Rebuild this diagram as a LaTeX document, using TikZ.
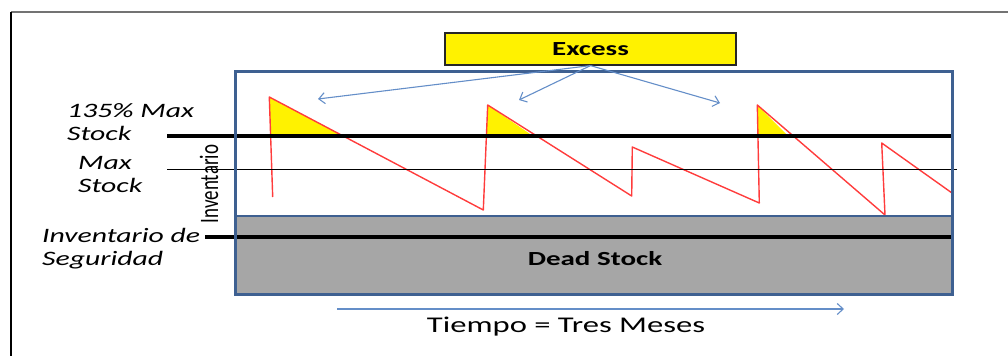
\documentclass[tikz,border=0pt]{standalone}
\usepackage{fontspec}
\setmainfont{Carlito}[FakeStretch=1.45]
\newfontfamily\upfont{Carlito}
\usetikzlibrary{arrows.meta}

\definecolor{boxblue}{RGB}{62,96,145}
\definecolor{hintblue}{RGB}{100,142,200}
\definecolor{sawred}{RGB}{255,60,60}
\definecolor{deadgray}{RGB}{166,166,166}

\tikzset{
  lbl/.style={font=\fontsize{20.5}{23}\selectfont\itshape, align=left, anchor=north west, inner sep=0pt},
  level/.style={line width=3.3pt},
  saw/.style={draw=sawred, line width=1.4pt, line join=round},
  hint/.style={draw=hintblue, line width=1.1pt, -{Straight Barb[length=6pt,width=11pt]}},
  excessbox/.style={draw=black!85, fill=yellow, line width=1.2pt, minimum width=291pt, minimum height=32pt, font=\fontsize{20}{22}\selectfont\bfseries},
}

\begin{document}
\begin{tikzpicture}[x=1pt,y=-1pt]
\useasboundingbox (0,0) rectangle (1008,356);
\draw[black!55, line width=1.2pt] (11,12) -- (1008,12);
\draw[black, line width=1.2pt] (11,12) -- (11,356);

\fill[deadgray] (235,216) rectangle (952,294);
\fill[yellow] (269.3,97) -- (343,136) -- (270.6,136) -- cycle;
\fill[yellow] (487.7,105) -- (533,136) -- (486.6,136) -- cycle;
\fill[yellow] (757.3,105) -- (788,136) -- (757.5,136) -- cycle;
\draw[saw] (272.7,197) -- (269.3,97) -- (483.3,210) -- (487.7,105) -- (631.7,196) -- (632.3,147)
  -- (759.3,203) -- (757.3,105) -- (885,215) -- (881.7,143) -- (952,193);

\draw[level] (167,136) -- (954,136);
\draw[line width=1pt] (167,169) -- (957,169);
\draw[level] (205,237) -- (954,237);
\draw[boxblue, line width=3pt] (235,71) rectangle (952,294);
\draw[boxblue, line width=2pt] (235,216) -- (952,216);

\node[excessbox] (excess) at (590.5,49) {Excess};
\node[font=\fontsize{20}{22}\selectfont\bfseries] (dead) at (595,259) {Dead Stock};
\node[rotate=90, font=\upfont\fontsize{19}{22}\selectfont] (inv) at (209,184) {\scalebox{1}[1.4]{Inventario}};

\node[lbl] (maxpct) at (67,103) {135\% Max\\Stock};
\node[lbl] (maxstock) at (78,156) {Max\\Stock};
\node[lbl] (safety) at (42,228) {Inventario de\\Seguridad};

\coordinate (e1) at (318,99);
\coordinate (e2) at (519,100);
\coordinate (e3) at (720,103);
\draw[hint] (excess.south) -- (e1);
\draw[hint] (excess.south) -- (e2);
\draw[hint] (excess.south) -- (e3);

\coordinate (t0) at (337,309);
\coordinate (t1) at (844,309);
\draw[hint] (t0) -- (t1);
\node[font=\fontsize{22.5}{25}\selectfont] (tiempo) at (566,327) {Tiempo = Tres Meses};
\end{tikzpicture}
\end{document}
